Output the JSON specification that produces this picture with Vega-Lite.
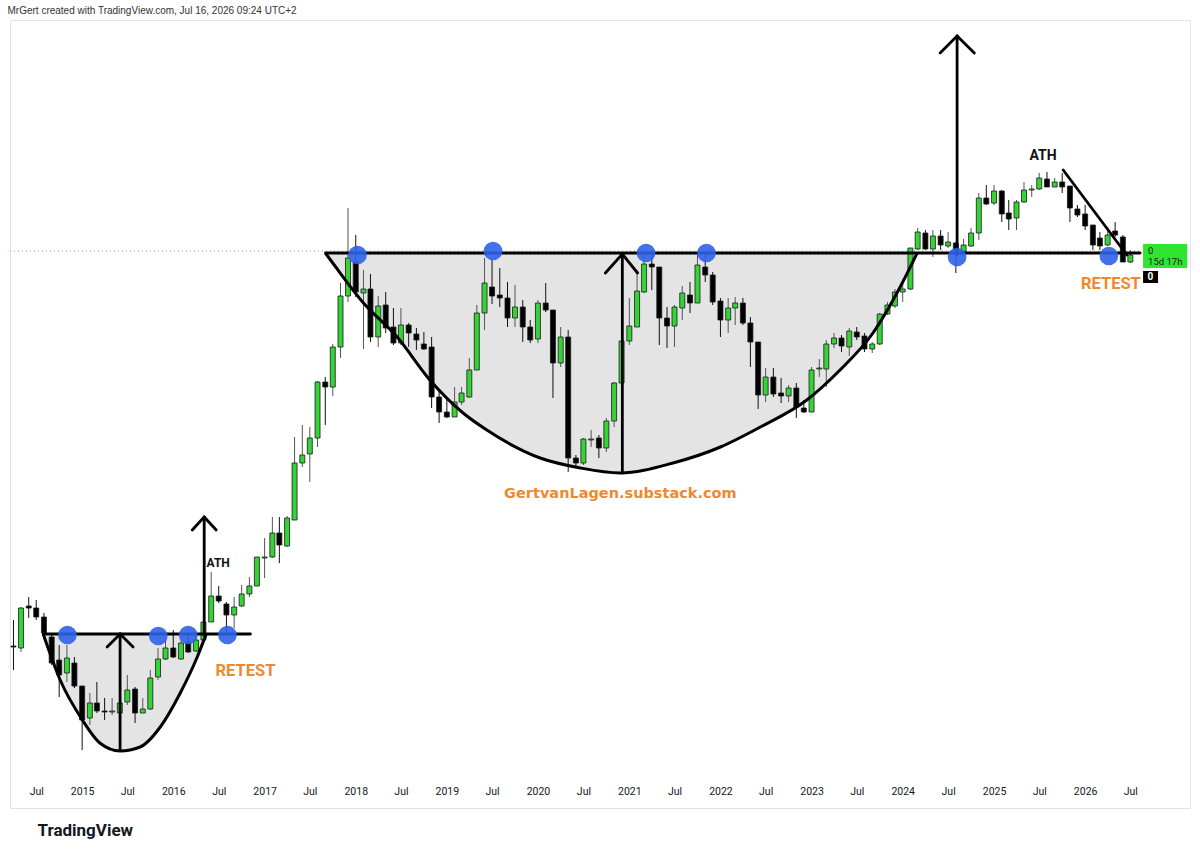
{
  "$schema": "https://vega.github.io/schema/vega-lite/v6.json",
  "width": 1180,
  "height": 788,
  "autosize": {"type": "none"},
  "padding": {"left": 10, "top": 20, "right": 10, "bottom": 46},
  "background": "#ffffff",
  "config": {"view": {"stroke": "#e0e3eb"}, "font": "Roboto"},
  "title": {"text": "MrGert created with TradingView.com, Jul 16, 2026 09:24 UTC+2", "anchor": "start", "fontSize": 10, "font": "Liberation Sans", "fontWeight": "normal", "color": "#333333", "offset": 4, "dx": -2},
  "datasets": {
    "candles": [
      {"d":"2014-04-01","o":134,"h":160,"l":110,"c":133},
      {"d":"2014-05-01","o":132,"h":173,"l":128,"c":172},
      {"d":"2014-06-01","o":174,"h":183,"l":162,"c":172},
      {"d":"2014-07-01","o":172,"h":180,"l":160,"c":163},
      {"d":"2014-08-01","o":163,"h":167,"l":145,"c":147},
      {"d":"2014-09-01","o":143,"h":145,"l":115,"c":117},
      {"d":"2014-10-01","o":120,"h":135,"l":83,"c":105},
      {"d":"2014-11-01","o":107,"h":135,"l":98,"c":122},
      {"d":"2014-12-01","o":117,"h":123,"l":92,"c":94},
      {"d":"2015-01-01","o":94,"h":94,"l":30,"c":60},
      {"d":"2015-02-01","o":62,"h":87,"l":55,"c":77},
      {"d":"2015-03-01","o":77,"h":98,"l":67,"c":69},
      {"d":"2015-04-01","o":69,"h":82,"l":60,"c":68},
      {"d":"2015-05-01","o":68,"h":82,"l":65,"c":69},
      {"d":"2015-06-01","o":67,"h":87,"l":63,"c":77},
      {"d":"2015-07-01","o":78,"h":105,"l":75,"c":90},
      {"d":"2015-08-01","o":91,"h":93,"l":57,"c":67},
      {"d":"2015-09-01","o":67,"h":82,"l":67,"c":71},
      {"d":"2015-10-01","o":71,"h":110,"l":70,"c":102},
      {"d":"2015-11-01","o":103,"h":132,"l":100,"c":121},
      {"d":"2015-12-01","o":121,"h":140,"l":120,"c":132},
      {"d":"2016-01-01","o":132,"h":150,"l":122,"c":123},
      {"d":"2016-02-01","o":121,"h":140,"l":120,"c":137},
      {"d":"2016-03-01","o":138,"h":145,"l":127,"c":128},
      {"d":"2016-04-01","o":129,"h":145,"l":128,"c":140},
      {"d":"2016-05-01","o":140,"h":167,"l":138,"c":158},
      {"d":"2016-06-01","o":158,"h":208,"l":158,"c":184},
      {"d":"2016-07-01","o":184,"h":194,"l":177,"c":179},
      {"d":"2016-08-01","o":176,"h":178,"l":145,"c":165},
      {"d":"2016-09-01","o":165,"h":183,"l":152,"c":173},
      {"d":"2016-10-01","o":174,"h":195,"l":173,"c":186},
      {"d":"2016-11-01","o":186,"h":203,"l":183,"c":194},
      {"d":"2016-12-01","o":194,"h":223,"l":194,"c":223},
      {"d":"2017-01-01","o":222,"h":242,"l":202,"c":223},
      {"d":"2017-02-01","o":223,"h":263,"l":222,"c":247},
      {"d":"2017-03-01","o":247,"h":263,"l":217,"c":235},
      {"d":"2017-04-01","o":234,"h":264,"l":233,"c":262},
      {"d":"2017-05-01","o":260,"h":343,"l":260,"c":317},
      {"d":"2017-06-01","o":317,"h":355,"l":313,"c":325},
      {"d":"2017-07-01","o":326,"h":353,"l":298,"c":342},
      {"d":"2017-08-01","o":342,"h":399,"l":333,"c":398},
      {"d":"2017-09-01","o":398,"h":403,"l":355,"c":393},
      {"d":"2017-10-01","o":393,"h":436,"l":384,"c":433},
      {"d":"2017-11-01","o":433,"h":497,"l":422,"c":484},
      {"d":"2017-12-01","o":484,"h":572,"l":478,"c":522},
      {"d":"2018-01-01","o":518,"h":545,"l":483,"c":488},
      {"d":"2018-02-01","o":487,"h":510,"l":431,"c":491},
      {"d":"2018-03-01","o":491,"h":506,"l":438,"c":443},
      {"d":"2018-04-01","o":443,"h":484,"l":433,"c":474},
      {"d":"2018-05-01","o":475,"h":488,"l":447,"c":452},
      {"d":"2018-06-01","o":453,"h":472,"l":435,"c":437},
      {"d":"2018-07-01","o":437,"h":472,"l":435,"c":455},
      {"d":"2018-08-01","o":455,"h":457,"l":433,"c":447},
      {"d":"2018-09-01","o":446,"h":452,"l":430,"c":440},
      {"d":"2018-10-01","o":436,"h":448,"l":430,"c":431},
      {"d":"2018-11-01","o":433,"h":443,"l":372,"c":383},
      {"d":"2018-12-01","o":383,"h":390,"l":357,"c":368},
      {"d":"2019-01-01","o":368,"h":380,"l":362,"c":363},
      {"d":"2019-02-01","o":363,"h":393,"l":363,"c":378},
      {"d":"2019-03-01","o":378,"h":393,"l":375,"c":387},
      {"d":"2019-04-01","o":383,"h":422,"l":382,"c":410},
      {"d":"2019-05-01","o":410,"h":475,"l":410,"c":467},
      {"d":"2019-06-01","o":467,"h":522,"l":450,"c":497},
      {"d":"2019-07-01","o":493,"h":520,"l":476,"c":484},
      {"d":"2019-08-01","o":485,"h":512,"l":473,"c":482},
      {"d":"2019-09-01","o":482,"h":498,"l":453,"c":462},
      {"d":"2019-10-01","o":462,"h":495,"l":453,"c":473},
      {"d":"2019-11-01","o":473,"h":480,"l":438,"c":453},
      {"d":"2019-12-01","o":453,"h":460,"l":437,"c":440},
      {"d":"2020-01-01","o":441,"h":480,"l":437,"c":477},
      {"d":"2020-02-01","o":477,"h":497,"l":468,"c":470},
      {"d":"2020-03-01","o":470,"h":470,"l":382,"c":417},
      {"d":"2020-04-01","o":417,"h":453,"l":413,"c":443},
      {"d":"2020-05-01","o":443,"h":450,"l":308,"c":322},
      {"d":"2020-06-01","o":322,"h":325,"l":313,"c":317},
      {"d":"2020-07-01","o":317,"h":342,"l":315,"c":341},
      {"d":"2020-08-01","o":340,"h":350,"l":333,"c":341},
      {"d":"2020-09-01","o":342,"h":345,"l":322,"c":332},
      {"d":"2020-10-01","o":332,"h":362,"l":328,"c":359},
      {"d":"2020-11-01","o":359,"h":398,"l":353,"c":397},
      {"d":"2020-12-01","o":397,"h":450,"l":395,"c":439},
      {"d":"2021-01-01","o":439,"h":482,"l":435,"c":454},
      {"d":"2021-02-01","o":453,"h":510,"l":453,"c":489},
      {"d":"2021-03-01","o":488,"h":527,"l":487,"c":516},
      {"d":"2021-04-01","o":516,"h":527,"l":490,"c":513},
      {"d":"2021-05-01","o":513,"h":513,"l":435,"c":462},
      {"d":"2021-06-01","o":462,"h":473,"l":432,"c":454},
      {"d":"2021-07-01","o":454,"h":475,"l":433,"c":473},
      {"d":"2021-08-01","o":472,"h":494,"l":460,"c":487},
      {"d":"2021-09-01","o":485,"h":498,"l":467,"c":477},
      {"d":"2021-10-01","o":477,"h":527,"l":477,"c":515},
      {"d":"2021-11-01","o":513,"h":527,"l":498,"c":505},
      {"d":"2021-12-01","o":505,"h":508,"l":475,"c":478},
      {"d":"2022-01-01","o":479,"h":482,"l":443,"c":460},
      {"d":"2022-02-01","o":460,"h":482,"l":447,"c":472},
      {"d":"2022-03-01","o":472,"h":483,"l":455,"c":477},
      {"d":"2022-04-01","o":477,"h":482,"l":455,"c":457},
      {"d":"2022-05-01","o":457,"h":463,"l":413,"c":438},
      {"d":"2022-06-01","o":438,"h":438,"l":371,"c":385},
      {"d":"2022-07-01","o":385,"h":412,"l":378,"c":403},
      {"d":"2022-08-01","o":403,"h":412,"l":383,"c":386},
      {"d":"2022-09-01","o":387,"h":402,"l":377,"c":384},
      {"d":"2022-10-01","o":384,"h":395,"l":378,"c":392},
      {"d":"2022-11-01","o":392,"h":397,"l":362,"c":373},
      {"d":"2022-12-01","o":372,"h":380,"l":367,"c":368},
      {"d":"2023-01-01","o":368,"h":413,"l":368,"c":410},
      {"d":"2023-02-01","o":411,"h":421,"l":403,"c":412},
      {"d":"2023-03-01","o":411,"h":440,"l":393,"c":436},
      {"d":"2023-04-01","o":436,"h":447,"l":432,"c":442},
      {"d":"2023-05-01","o":442,"h":445,"l":428,"c":434},
      {"d":"2023-06-01","o":433,"h":452,"l":424,"c":449},
      {"d":"2023-07-01","o":448,"h":453,"l":440,"c":443},
      {"d":"2023-08-01","o":444,"h":447,"l":428,"c":431},
      {"d":"2023-09-01","o":431,"h":438,"l":427,"c":436},
      {"d":"2023-10-01","o":436,"h":467,"l":435,"c":466},
      {"d":"2023-11-01","o":466,"h":478,"l":465,"c":475},
      {"d":"2023-12-01","o":474,"h":491,"l":472,"c":488},
      {"d":"2024-01-01","o":488,"h":501,"l":478,"c":491},
      {"d":"2024-02-01","o":491,"h":532,"l":490,"c":532},
      {"d":"2024-03-01","o":531,"h":552,"l":530,"c":548},
      {"d":"2024-04-01","o":547,"h":550,"l":530,"c":531},
      {"d":"2024-05-01","o":531,"h":550,"l":523,"c":544},
      {"d":"2024-06-01","o":544,"h":550,"l":530,"c":535},
      {"d":"2024-07-01","o":534,"h":548,"l":532,"c":538},
      {"d":"2024-08-01","o":537,"h":538,"l":507,"c":530},
      {"d":"2024-09-01","o":528,"h":541,"l":527,"c":535},
      {"d":"2024-10-01","o":534,"h":552,"l":533,"c":547},
      {"d":"2024-11-01","o":547,"h":587,"l":540,"c":582},
      {"d":"2024-12-01","o":582,"h":595,"l":575,"c":576},
      {"d":"2025-01-01","o":577,"h":595,"l":575,"c":589},
      {"d":"2025-02-01","o":589,"h":590,"l":558,"c":566},
      {"d":"2025-03-01","o":567,"h":580,"l":550,"c":561},
      {"d":"2025-04-01","o":562,"h":580,"l":550,"c":578},
      {"d":"2025-05-01","o":578,"h":598,"l":577,"c":590},
      {"d":"2025-06-01","o":590,"h":595,"l":583,"c":591},
      {"d":"2025-07-01","o":591,"h":607,"l":590,"c":602},
      {"d":"2025-08-01","o":601,"h":608,"l":593,"c":593},
      {"d":"2025-09-01","o":593,"h":602,"l":593,"c":598},
      {"d":"2025-10-01","o":598,"h":607,"l":587,"c":593},
      {"d":"2025-11-01","o":594,"h":594,"l":558,"c":572},
      {"d":"2025-12-01","o":571,"h":575,"l":563,"c":565},
      {"d":"2026-01-01","o":566,"h":575,"l":550,"c":554},
      {"d":"2026-02-01","o":555,"h":555,"l":530,"c":535},
      {"d":"2026-03-01","o":542,"h":548,"l":530,"c":534},
      {"d":"2026-04-01","o":535,"h":553,"l":534,"c":545},
      {"d":"2026-05-01","o":549,"h":558,"l":543,"c":545},
      {"d":"2026-06-01","o":543,"h":545,"l":518,"c":518},
      {"d":"2026-07-01","o":518,"h":530,"l":517,"c":525}
    ],
    "bigcup": [
      {"d":"2017-09-01","p":527},{"d":"2017-09-22","p":520},{"d":"2018-02-01","p":477},{"d":"2018-06-16","p":443},
      {"d":"2018-10-25","p":400},{"d":"2019-03-07","p":367},{"d":"2019-06-10","p":350},{"d":"2020-01-10","p":322},
      {"d":"2020-06-19","p":312},{"d":"2020-11-25","p":307},{"d":"2021-06-25","p":317},{"d":"2022-01-01","p":333},
      {"d":"2022-06-10","p":353},{"d":"2022-12-13","p":380},{"d":"2023-04-25","p":410},{"d":"2023-09-04","p":447},
      {"d":"2023-12-22","p":493},{"d":"2024-02-28","p":527}
    ],
    "smallcup": [
      {"d":"2014-07-29","p":146},{"d":"2014-10-05","p":100},{"d":"2015-01-02","p":60},{"d":"2015-03-13","p":37},
      {"d":"2015-06-02","p":29},{"d":"2015-08-21","p":33},{"d":"2015-11-10","p":53},{"d":"2016-01-29","p":87},
      {"d":"2016-04-06","p":123},{"d":"2016-05-12","p":146}
    ],
    "segs": [
      {"d1":"2014-07-29","p1":146,"d2":"2016-11-05","p2":146},
      {"d1":"2015-06-02","p1":30,"d2":"2015-06-02","p2":146},
      {"d1":"2015-04-11","p1":133,"d2":"2015-06-02","p2":146},
      {"d1":"2015-07-24","p1":133,"d2":"2015-06-02","p2":146},
      {"d1":"2016-05-04","p1":145,"d2":"2016-05-04","p2":263},
      {"d1":"2016-03-17","p1":250,"d2":"2016-05-04","p2":263},
      {"d1":"2016-06-21","p1":250,"d2":"2016-05-04","p2":263},
      {"d1":"2017-09-02","p1":527,"d2":"2026-08-09","p2":527},
      {"d1":"2020-12-04","p1":307,"d2":"2020-12-04","p2":526},
      {"d1":"2020-09-27","p1":507,"d2":"2020-12-04","p2":526},
      {"d1":"2021-02-03","p1":507,"d2":"2020-12-04","p2":526},
      {"d1":"2024-08-06","p1":525,"d2":"2024-08-06","p2":744},
      {"d1":"2024-05-30","p1":727,"d2":"2024-08-06","p2":744},
      {"d1":"2024-10-14","p1":727,"d2":"2024-08-06","p2":744},
      {"d1":"2025-10-05","p1":610,"d2":"2026-06-17","p2":525}
    ],
    "dots": [
      {"d":"2014-11-03","p":145},{"d":"2015-11-02","p":144},{"d":"2016-03-01","p":145},{"d":"2016-08-05","p":145},
      {"d":"2018-01-08","p":525},{"d":"2019-07-05","p":529},{"d":"2021-03-09","p":527},{"d":"2021-11-06","p":527},
      {"d":"2024-08-06","p":523},{"d":"2026-04-06","p":524}
    ]
  },
  "layer": [
    {
      "data": {"name": "bigcup"},
      "mark": {"type": "area", "interpolate": "monotone", "color": "#e4e4e4"},
      "encoding": {
        "x": {"field": "d", "type": "temporal", "scale": {"type": "utc", "padding": 0, "domain": [{"year": 2014, "month": 3, "date": 18, "utc": true}, {"year": 2027, "month": 2, "date": 25, "utc": true}]},
          "axis": {"title": "TradingView", "tickCount": {"interval": "month", "step": 6}, "labelExpr": "utcyear(datum.value) >= 2027 ? '' : (utcmonth(datum.value) == 0 ? utcFormat(datum.value, '%Y') : 'Jul')", "grid": false, "domain": false, "ticks": false, "offset": -28, "labelPadding": 6, "labelFontSize": 10.5, "labelColor": "#131722", "labelFont": "Roboto", "labelOverlap": false, "labelFlush": false, "titleX": 27, "titleY": 50, "titleAlign": "left", "titleBaseline": "middle", "titleFontSize": 17, "titleFontWeight": "bold", "titleFont": "Roboto", "titleColor": "#131722", "titleAnchor": null}},
        "y": {"field": "p", "type": "quantitative", "scale": {"domain": [-28, 760], "nice": false, "zero": false, "padding": 0}, "axis": null},
        "y2": {"datum": 527}
      }
    },
    {
      "data": {"name": "smallcup"},
      "mark": {"type": "area", "interpolate": "monotone", "color": "#e4e4e4"},
      "encoding": {
        "x": {"field": "d", "type": "temporal"},
        "y": {"field": "p", "type": "quantitative", "axis": null},
        "y2": {"datum": 146}
      }
    },
    {
      "data": {"values": [{"d1": "2014-03-18", "d2": "2026-08-09", "p": 529}]},
      "mark": {"type": "rule", "color": "#5cc77a", "strokeWidth": 1, "strokeDash": [1, 3]},
      "encoding": {
        "x": {"field": "d1", "type": "temporal"},
        "x2": {"field": "d2"},
        "y": {"field": "p", "type": "quantitative", "axis": null}
      }
    },
    {
      "data": {"name": "candles"},
      "mark": {"type": "rule", "strokeWidth": 1},
      "encoding": {
        "x": {"field": "d", "type": "temporal"},
        "y": {"field": "l", "type": "quantitative", "axis": null},
        "y2": {"field": "h"},
        "color": {"condition": {"test": "datum.c >= datum.o", "value": "#555555"}, "value": "#111111"}
      }
    },
    {
      "data": {"name": "candles"},
      "mark": {"type": "bar", "size": 5, "stroke": "#1a1a1a", "strokeWidth": 0.8},
      "encoding": {
        "x": {"field": "d", "type": "temporal"},
        "y": {"field": "o", "type": "quantitative", "axis": null},
        "y2": {"field": "c"},
        "color": {"condition": {"test": "datum.c >= datum.o", "value": "#35d435"}, "value": "#000000"}
      }
    },
    {
      "data": {"name": "bigcup"},
      "mark": {"type": "line", "interpolate": "monotone", "color": "#000000", "strokeWidth": 3},
      "encoding": {
        "x": {"field": "d", "type": "temporal"},
        "y": {"field": "p", "type": "quantitative", "axis": null}
      }
    },
    {
      "data": {"name": "smallcup"},
      "mark": {"type": "line", "interpolate": "monotone", "color": "#000000", "strokeWidth": 3},
      "encoding": {
        "x": {"field": "d", "type": "temporal"},
        "y": {"field": "p", "type": "quantitative", "axis": null}
      }
    },
    {
      "data": {"name": "segs"},
      "mark": {"type": "rule", "color": "#000000", "strokeWidth": 2.8, "strokeCap": "round"},
      "encoding": {
        "x": {"field": "d1", "type": "temporal"},
        "x2": {"field": "d2"},
        "y": {"field": "p1", "type": "quantitative", "axis": null},
        "y2": {"field": "p2"}
      }
    },
    {
      "data": {"name": "dots"},
      "mark": {"type": "point", "filled": true, "size": 350, "color": "#2f62e8", "opacity": 0.9},
      "encoding": {
        "x": {"field": "d", "type": "temporal"},
        "y": {"field": "p", "type": "quantitative", "axis": null}
      }
    },
    {
      "data": {"values": [{"d": "2016-06-29", "p": 217, "t": "ATH"}]},
      "mark": {"type": "text", "font": "Roboto", "fontSize": 12, "fontWeight": "bold", "color": "#111111"},
      "encoding": {
        "x": {"field": "d", "type": "temporal"},
        "y": {"field": "p", "type": "quantitative", "axis": null},
        "text": {"field": "t"}
      }
    },
    {
      "data": {"values": [{"d": "2025-07-16", "p": 624, "t": "ATH"}]},
      "mark": {"type": "text", "font": "Roboto", "fontSize": 14, "fontWeight": "bold", "color": "#111111"},
      "encoding": {
        "x": {"field": "d", "type": "temporal"},
        "y": {"field": "p", "type": "quantitative", "axis": null},
        "text": {"field": "t"}
      }
    },
    {
      "data": {"values": [{"d": "2016-10-16", "p": 109, "t": "RETEST"}, {"d": "2026-04-14", "p": 496, "t": "RETEST"}]},
      "mark": {"type": "text", "font": "Roboto", "fontSize": 16.5, "fontWeight": "bold", "color": "#f0892b"},
      "encoding": {
        "x": {"field": "d", "type": "temporal"},
        "y": {"field": "p", "type": "quantitative", "axis": null},
        "text": {"field": "t"}
      }
    },
    {
      "data": {"values": [{"d": "2020-11-26", "p": 286, "t": "GertvanLagen.substack.com"}]},
      "mark": {"type": "text", "font": "DejaVu Sans", "fontSize": 14.5, "fontWeight": "bold", "color": "#f0892b"},
      "encoding": {
        "x": {"field": "d", "type": "temporal"},
        "y": {"field": "p", "type": "quantitative", "axis": null},
        "text": {"field": "t"}
      }
    },
    {
      "data": {"values": [{"d1": "2026-08-21", "d2": "2027-02-14", "p1": 536, "p2": 512}]},
      "mark": {"type": "rect", "color": "#2ee62e"},
      "encoding": {
        "x": {"field": "d1", "type": "temporal"},
        "x2": {"field": "d2"},
        "y": {"field": "p1", "type": "quantitative", "axis": null},
        "y2": {"field": "p2"}
      }
    },
    {
      "data": {"values": [{"d1": "2026-08-21", "d2": "2026-10-20", "p1": 509, "p2": 497}]},
      "mark": {"type": "rect", "color": "#000000"},
      "encoding": {
        "x": {"field": "d1", "type": "temporal"},
        "x2": {"field": "d2"},
        "y": {"field": "p1", "type": "quantitative", "axis": null},
        "y2": {"field": "p2"}
      }
    },
    {
      "data": {"values": [{"d": "2026-09-10", "p": 529, "t": "0"}, {"d": "2026-09-10", "p": 518, "t": "15d 17h"}]},
      "mark": {"type": "text", "font": "Roboto", "fontSize": 9.5, "align": "left", "baseline": "middle", "color": "#1a1a1a"},
      "encoding": {
        "x": {"field": "d", "type": "temporal"},
        "y": {"field": "p", "type": "quantitative", "axis": null},
        "text": {"field": "t"}
      }
    },
    {
      "data": {"values": [{"d": "2026-09-19", "p": 503, "t": "0"}]},
      "mark": {"type": "text", "font": "Roboto", "fontSize": 10, "fontWeight": "bold", "align": "center", "baseline": "middle", "color": "#ffffff"},
      "encoding": {
        "x": {"field": "d", "type": "temporal"},
        "y": {"field": "p", "type": "quantitative", "axis": null},
        "text": {"field": "t"}
      }
    }
  ]
}
